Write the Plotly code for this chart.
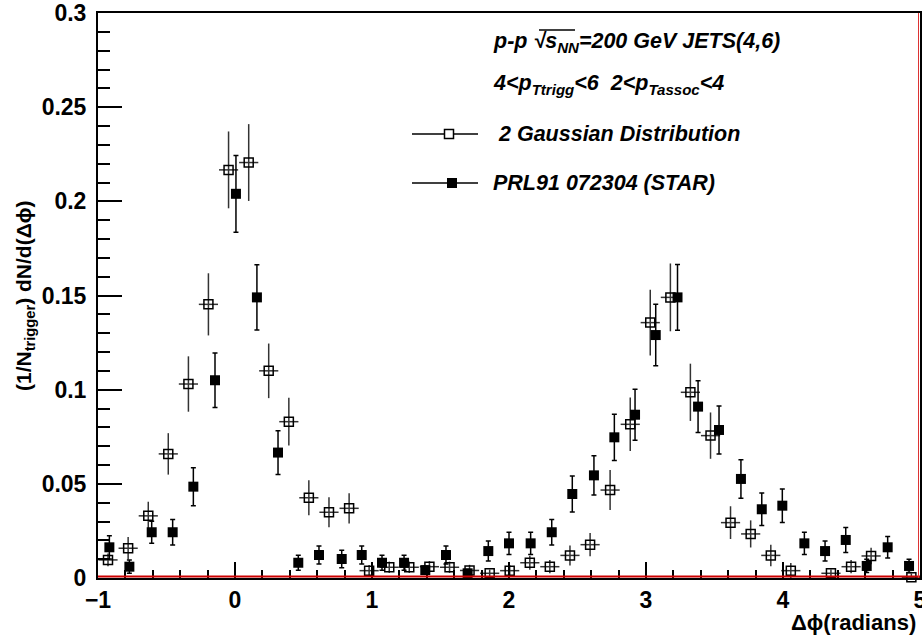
import plotly.graph_objects as go

# ---- data ----
x_gauss = [-0.927, -0.780, -0.633, -0.487, -0.340, -0.194, -0.047, 0.100, 0.246, 0.393,
           0.539, 0.686, 0.833, 0.979, 1.126, 1.272, 1.419, 1.566, 1.712, 1.859,
           2.005, 2.152, 2.298, 2.445, 2.592, 2.738, 2.885, 3.031, 3.178, 3.324,
           3.471, 3.617, 3.764, 3.911, 4.057, 4.350, 4.497, 4.643, 4.937]
y_gauss = [0.0096, 0.0158, 0.0330, 0.0659, 0.1030, 0.1453, 0.2167, 0.2206, 0.1100, 0.0830,
           0.0426, 0.0349, 0.0370, 0.0039, 0.0057, 0.0057, 0.0060, 0.0057, 0.0040, 0.0025,
           0.0039, 0.0081, 0.0060, 0.0120, 0.0177, 0.0467, 0.0816, 0.1356, 0.1490, 0.0986,
           0.0756, 0.0294, 0.0234, 0.0120, 0.0039, 0.0025, 0.0060, 0.0117, 0.0004]
err_gauss = [0.0034, 0.0060, 0.0075, 0.0110, 0.0147, 0.0165, 0.0204, 0.0204, 0.0145, 0.0127,
             0.0093, 0.0080, 0.0080, 0.0030, 0.0030, 0.0030, 0.0030, 0.0030, 0.0030, 0.0020,
             0.0030, 0.0037, 0.0035, 0.0053, 0.0062, 0.0106, 0.0142, 0.0175, 0.0180, 0.0152,
             0.0123, 0.0087, 0.0072, 0.0057, 0.0040, 0.0020, 0.0035, 0.0044, 0.0020]
xerr_gauss = 0.07

x_star = [-0.917, -0.771, -0.608, -0.455, -0.304, -0.146, 0.007, 0.160, 0.314, 0.462,
          0.613, 0.779, 0.925, 1.073, 1.234, 1.389, 1.540, 1.698, 1.849, 2.000,
          2.158, 2.312, 2.462, 2.620, 2.769, 2.920, 3.071, 3.230, 3.380, 3.533,
          3.693, 3.845, 3.995, 4.156, 4.307, 4.458, 4.611, 4.764, 4.920]
y_star = [0.0163, 0.0060, 0.0243, 0.0243, 0.0485, 0.1050, 0.2040, 0.1490, 0.0666, 0.0081,
          0.0122, 0.0101, 0.0122, 0.0081, 0.0081, 0.0042, 0.0122, 0.0025, 0.0143, 0.0184,
          0.0184, 0.0243, 0.0446, 0.0545, 0.0747, 0.0867, 0.1290, 0.1490, 0.0910, 0.0786,
          0.0526, 0.0365, 0.0384, 0.0184, 0.0143, 0.0202, 0.0064, 0.0163, 0.0064]
err_star = [0.0062, 0.0035, 0.0058, 0.0068, 0.0101, 0.0145, 0.0204, 0.0173, 0.0116, 0.0040,
            0.0048, 0.0046, 0.0048, 0.0040, 0.0040, 0.0020, 0.0048, 0.0020, 0.0053, 0.0059,
            0.0059, 0.0068, 0.0095, 0.0104, 0.0123, 0.0135, 0.0163, 0.0175, 0.0137, 0.0127,
            0.0102, 0.0086, 0.0089, 0.0059, 0.0053, 0.0066, 0.0035, 0.0057, 0.0035]

legend_names = [" 2 Gaussian Distribution", "PRL91 072304 (STAR)"]
header_lines = [
    "p-p √s<sub>NN</sub>=200 GeV JETS(4,6)",
    "4&lt;p<sub>Ttrigg</sub>&lt;6  2&lt;p<sub>Tassoc</sub>&lt;4",
]

FONT = "Liberation Sans, Arial, Helvetica, sans-serif"

fig = go.Figure()
fig.add_trace(go.Scatter(
    x=x_gauss, y=y_gauss, mode="markers", name=legend_names[0], showlegend=False,
    cliponaxis=False,
    marker=dict(symbol="square-open", size=9, color="black", line=dict(width=1.5)),
    error_y=dict(type="data", array=err_gauss, visible=True, color="#333333", thickness=1.5, width=0),
    error_x=dict(type="constant", value=xerr_gauss, visible=True, color="#333333", thickness=1.5, width=0),
))
fig.add_trace(go.Scatter(
    x=x_star, y=y_star, mode="markers", name=legend_names[1], showlegend=False,
    cliponaxis=False,
    marker=dict(symbol="square", size=10, color="black"),
    error_y=dict(type="data", array=err_star, visible=True, color="black", thickness=1.5, width=2.5),
))

# ---- layout ----
W, H = 922, 639
L, R, T, B = 98, 2, 13, 61
fig.update_layout(
    width=W, height=H,
    margin=dict(l=L, r=R, t=T, b=B, pad=0, autoexpand=False),
    paper_bgcolor="white", plot_bgcolor="white",
    font=dict(family=FONT, color="black"),
    showlegend=False,
)
fig.update_xaxes(
    range=[-1, 5], showgrid=False, zeroline=False, automargin=False,
    showline=True, linecolor="black", linewidth=2, mirror=True,
    ticks="inside", ticklen=16, tickwidth=1.5, tickcolor="black", dtick=1, tick0=0,
    minor=dict(ticks="inside", ticklen=8, tickwidth=1.5, tickcolor="black", dtick=0.2, showgrid=False),
    tickfont=dict(family=FONT, size=23, weight="bold"),
    ticklabelstandoff=0,
    ticklabeloverflow="allow",
)
fig.update_yaxes(
    range=[0, 0.3], showgrid=False, zeroline=False, automargin=False,
    showline=True, linecolor="black", linewidth=2, mirror=True,
    ticks="inside", ticklen=24, tickwidth=1.5, tickcolor="black", dtick=0.05, tick0=0,
    minor=dict(ticks="inside", ticklen=12, tickwidth=1.5, tickcolor="black", dtick=0.01, showgrid=False),
    tickfont=dict(family=FONT, size=23, weight="bold"),
    tickformat="~g",
    ticklabelstandoff=5,
    ticklabeloverflow="allow",
)

def px2x(p):
    return (p - L) / (W - L - R)

def px2y(p):
    return (H - B - p) / (H - T - B)

shapes = []
# red inner frame lines (ROOT histogram frame)
shapes.append(dict(type="line", xref="paper", x0=0, x1=1, yref="y", ysizemode="pixel", yanchor=0,
                   y0=1.5, y1=1.5, line=dict(color="#cc0000", width=2), layer="above"))
shapes.append(dict(type="line", yref="paper", y0=0, y1=1, xref="x", xsizemode="pixel", xanchor=5,
                   x0=-1.5, x1=-1.5, line=dict(color="#dd3333", width=1), layer="above"))

# overline of the square root in the header
shapes.append(dict(type="line", xref="paper", yref="paper", x0=px2x(539), x1=px2x(575),
                   y0=px2y(30), y1=px2y(30), line=dict(color="black", width=1.5)))

# legend (manual)
leg_y = [px2y(134), px2y(183)]
leg_mx = [px2x(449), px2x(452)]
for i in range(2):
    shapes.append(dict(type="line", xref="paper", yref="paper", x0=px2x(412), x1=px2x(478),
                       y0=leg_y[i], y1=leg_y[i], line=dict(color="black", width=1.5)))
shapes.append(dict(type="rect", xref="paper", yref="paper", xsizemode="pixel", ysizemode="pixel",
                   xanchor=leg_mx[0], yanchor=leg_y[0], x0=-4.5, x1=4.5, y0=-4.5, y1=4.5,
                   line=dict(color="black", width=1.5), fillcolor="white"))
shapes.append(dict(type="rect", xref="paper", yref="paper", xsizemode="pixel", ysizemode="pixel",
                   xanchor=leg_mx[1], yanchor=leg_y[1], x0=-5, x1=5, y0=-5, y1=5,
                   line=dict(color="black", width=0), fillcolor="black"))
fig.update_layout(shapes=shapes)

ann_font = dict(family=FONT, size=21.5, weight="bold", style="italic", color="black")
annotations = [
    dict(text=header_lines[0], x=px2x(491), y=px2y(43), xref="paper", yref="paper",
         xanchor="left", yanchor="middle", showarrow=False, font=ann_font),
    dict(text=header_lines[1], x=px2x(491), y=px2y(84), xref="paper", yref="paper",
         xanchor="left", yanchor="middle", showarrow=False, font=ann_font),
    dict(text=legend_names[0], x=px2x(491), y=leg_y[0], xref="paper", yref="paper",
         xanchor="left", yanchor="middle", showarrow=False, font=ann_font),
    dict(text=legend_names[1], x=px2x(491), y=leg_y[1], xref="paper", yref="paper",
         xanchor="left", yanchor="middle", showarrow=False, font=ann_font),
    # axis titles
    dict(text="Δϕ(radians)", x=px2x(918), y=px2y(622), xref="paper", yref="paper",
         xanchor="right", yanchor="middle", showarrow=False,
         font=dict(family=FONT, size=22, weight="bold", color="black")),
    dict(text="(1/N<sub>trigger</sub>) dN/d(Δϕ)", x=px2x(25), y=px2y(296), xref="paper", yref="paper",
         xanchor="center", yanchor="middle", textangle=-90, showarrow=False,
         font=dict(family=FONT, size=21, weight="bold", color="black")),
]
fig.update_layout(annotations=annotations)

fig.write_html(
    "out.html",
    config={"displayModeBar": False},
    post_script="document.body.style.margin='0';document.body.style.overflow='hidden';",
)
